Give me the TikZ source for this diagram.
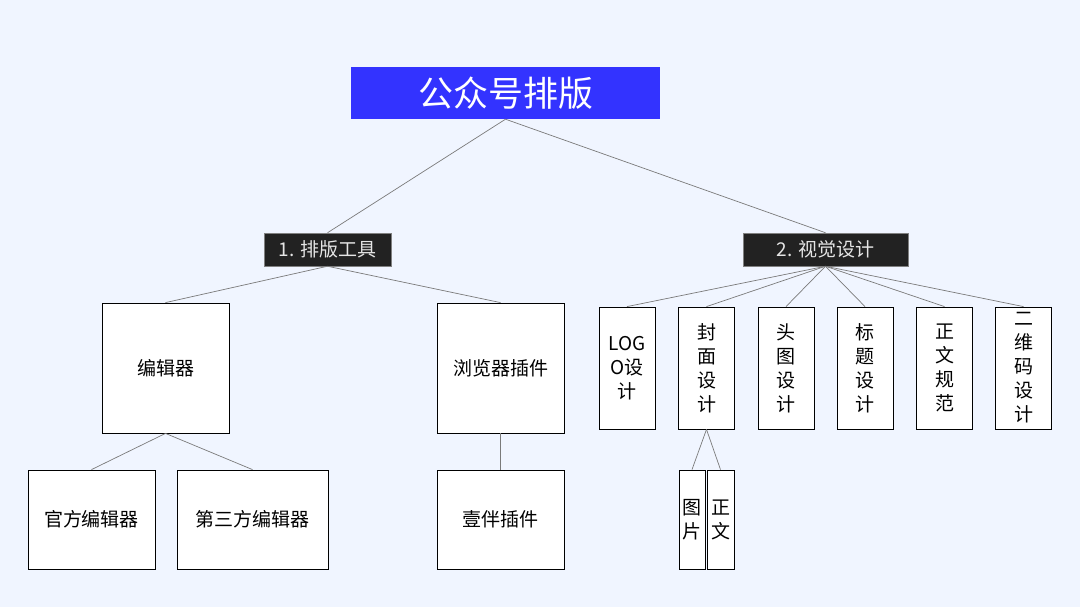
\documentclass[tikz,border=0pt]{standalone}
\usepackage{fontspec}
\setmainfont{Noto Sans CJK SC}
\definecolor{bgblue}{HTML}{F0F5FF}
\definecolor{rootblue}{HTML}{3333FF}
\definecolor{tagdark}{HTML}{222222}
\definecolor{linkgray}{HTML}{7A7A7A}

\begin{document}
\begin{tikzpicture}[x=1pt,y=-1pt,
		box/.style={draw=black,fill=white,line width=0.8pt,inner sep=0pt,align=center,
			font=\fontsize{19}{24}\selectfont},
		tag/.style={fill=tagdark,draw=gray,line width=0.5pt,text=white!90!black,inner sep=0pt,
			minimum height=33pt,font=\fontsize{19}{24}\selectfont},
		link/.style={draw=linkgray,line width=0.7pt}]
		% background
		\fill[bgblue] (0,0) rectangle (1080,607);
		% root
		\node[fill=rootblue,text=white,inner sep=0pt,minimum width=309pt,minimum height=52pt,
			font=\fontsize{35}{40}\selectfont] (root) at (505.5,93) {公众号排版};
		% second level
		\node[tag,minimum width=127pt] (tools) at (327.5,249.5) {1. 排版工具};
		\node[tag,minimum width=165pt] (visual) at (825.5,249.5) {2. 视觉设计};
		% tools branch
		\node[box,minimum width=127pt,minimum height=130pt] (editor) at (165.5,368) {编辑器};
		\node[box,minimum width=127pt,minimum height=130pt] (plugin) at (500.5,368) {浏览器插件};
		\node[box,minimum width=127pt,minimum height=99pt] (official) at (91.5,519.5) {官方编辑器};
		\node[box,minimum width=151pt,minimum height=99pt] (third) at (252.5,519.5) {第三方编辑器};
		\node[box,minimum width=127pt,minimum height=99pt] (yiban) at (500.5,519.5) {壹伴插件};
		% visual branch
		\node[box,minimum width=56pt,minimum height=122pt] (logo) at (627,368) {LOG\\O设\\计};
		\node[box,minimum width=56pt,minimum height=122pt] (cover) at (706.5,368) {封\\面\\设\\计};
		\node[box,minimum width=56pt,minimum height=122pt] (header) at (786,368) {头\\图\\设\\计};
		\node[box,minimum width=56pt,minimum height=122pt] (title) at (865,368) {标\\题\\设\\计};
		\node[box,minimum width=56pt,minimum height=122pt] (body) at (944.5,368) {正\\文\\规\\范};
		\node[box,minimum width=56pt,minimum height=122pt] (qrcode) at (1023.5,368) {二\\维\\码\\设\\计};
		\node[box,minimum width=26pt,minimum height=99pt] (picture) at (692,519.5) {图\\片};
		\node[box,minimum width=27pt,minimum height=99pt] (text) at (720.5,519.5) {正\\文};
		% connectors
		\draw[link] (root.south) -- (tools.north);
		\draw[link] (root.south) -- (visual.north);
		\draw[link] (tools.south) -- (editor.north);
		\draw[link] (tools.south) -- (plugin.north);
		\draw[link] (editor.south) -- (official.north);
		\draw[link] (editor.south) -- (third.north);
		\draw[link] (plugin.south) -- (yiban.north);
		\foreach \n in {logo,cover,header,title,body,qrcode}
			\draw[link] (visual.south) -- (\n.north);
		\draw[link] (cover.south) -- (picture.north);
		\draw[link] (cover.south) -- (text.north);
\end{tikzpicture}
\end{document}
